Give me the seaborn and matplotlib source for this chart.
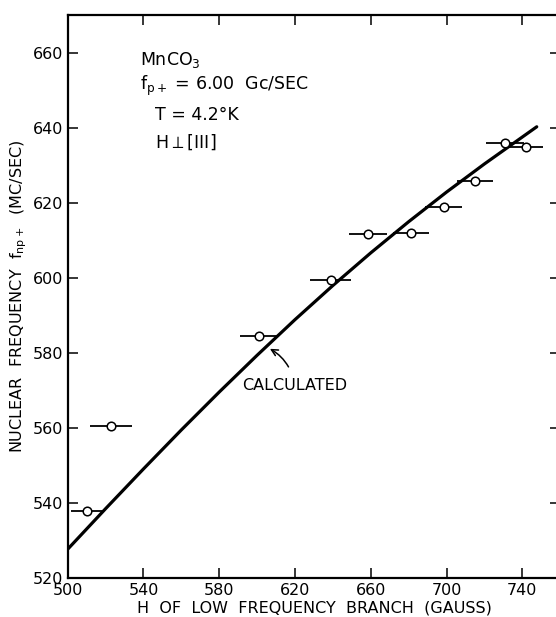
import matplotlib
matplotlib.use("Agg")
import matplotlib.pyplot as plt
import numpy as np
import pandas as pd
import seaborn as sns

# measured points (field in gauss, frequency in Mc/sec) with horizontal error half-widths
campo = [510.4, 522.9, 601.2, 638.8, 658.7, 681.2, 698.4, 715.2, 730.8, 741.9]
freq = [537.8, 560.5, 584.3, 599.4, 611.5, 611.8, 618.8, 625.8, 636.0, 634.9]
erro_campo = [8.5, 11.0, 10.0, 11.0, 10.0, 9.5, 10.0, 9.5, 10.0, 9.0]

# calculated curve
campo_calc = [500, 520, 540, 560, 580, 600, 620, 640, 660, 680, 700, 720, 747.6]
freq_calc = [527.6, 538.4, 549.0, 559.4, 569.5, 579.3, 588.8, 597.9, 606.6, 614.9, 622.8, 630.3, 640.2]

xticks = [500, 540, 580, 620, 660, 700, 740]
yticks = [520, 540, 560, 580, 600, 620, 640, 660]

sns.set_style("ticks")
plt.rcParams["font.family"] = ["DejaVu Sans"]
plt.rcParams["mathtext.fontset"] = "dejavusans"
plt.rcParams["text.color"] = "black"
plt.rcParams["axes.labelcolor"] = "black"
plt.rcParams["xtick.color"] = "black"
plt.rcParams["ytick.color"] = "black"
plt.rcParams["axes.edgecolor"] = "black"

medidos = pd.DataFrame({"H": campo, "f": freq, "dH": erro_campo})
calc = pd.DataFrame({"H": campo_calc, "f": freq_calc})

fig = plt.figure(figsize=(5.56, 6.17), dpi=100)
ax = fig.add_axes([0.1218, 0.0637, 0.8858, 0.912])

sns.lineplot(data=calc, x="H", y="f", ax=ax, color="black", linewidth=2.3, zorder=2)
ax.errorbar(medidos["H"], medidos["f"], xerr=medidos["dH"], fmt="none",
            ecolor="black", elinewidth=1.3, capsize=0, zorder=3)
sns.scatterplot(data=medidos, x="H", y="f", ax=ax, marker="o", s=38,
                facecolor="white", edgecolor="black", linewidth=1.1, zorder=4)

ax.set_xlim(500, 760)
ax.set_ylim(520, 670)
ax.set_xticks(xticks)
ax.set_yticks(yticks)
ax.tick_params(direction="in", length=7, width=1.1, top=True, right=True,
               labelsize=11.5)
ax.tick_params(axis="x", pad=4)
ax.tick_params(axis="y", pad=3)
for s in ax.spines.values():
    s.set_linewidth(1.6)

ax.set_xlabel("H  OF  LOW  FREQUENCY  BRANCH  (GAUSS)", fontsize=11.5)
ax.xaxis.set_label_coords(0.5, -0.041)
ax.set_ylabel(r"NUCLEAR  FREQUENCY  $\mathregular{f_{np+}}$  (MC/SEC)", fontsize=11.5, labelpad=3)

ax.text(538.3, 658, r"MnCO$_3$", fontsize=12.5, va="center")
ax.text(538.3, 651.2, r"$\mathregular{f_{p+}}$ = 6.00  Gc/SEC", fontsize=12.5, va="center")
ax.text(546, 643.4, "T = 4.2°K", fontsize=12.5, va="center")
ax.text(546, 636.2, r"H$\perp$[III]", fontsize=12.5, va="center")

ax.annotate("CALCULATED", xy=(606.1, 581.2), xytext=(619.8, 571.3),
            fontsize=11.5, ha="center", va="center",
            arrowprops=dict(arrowstyle="->", color="black", lw=1.1,
                            connectionstyle="arc3,rad=0.25",
                            shrinkA=6, shrinkB=1))

fig.savefig("out.png", dpi=100)
